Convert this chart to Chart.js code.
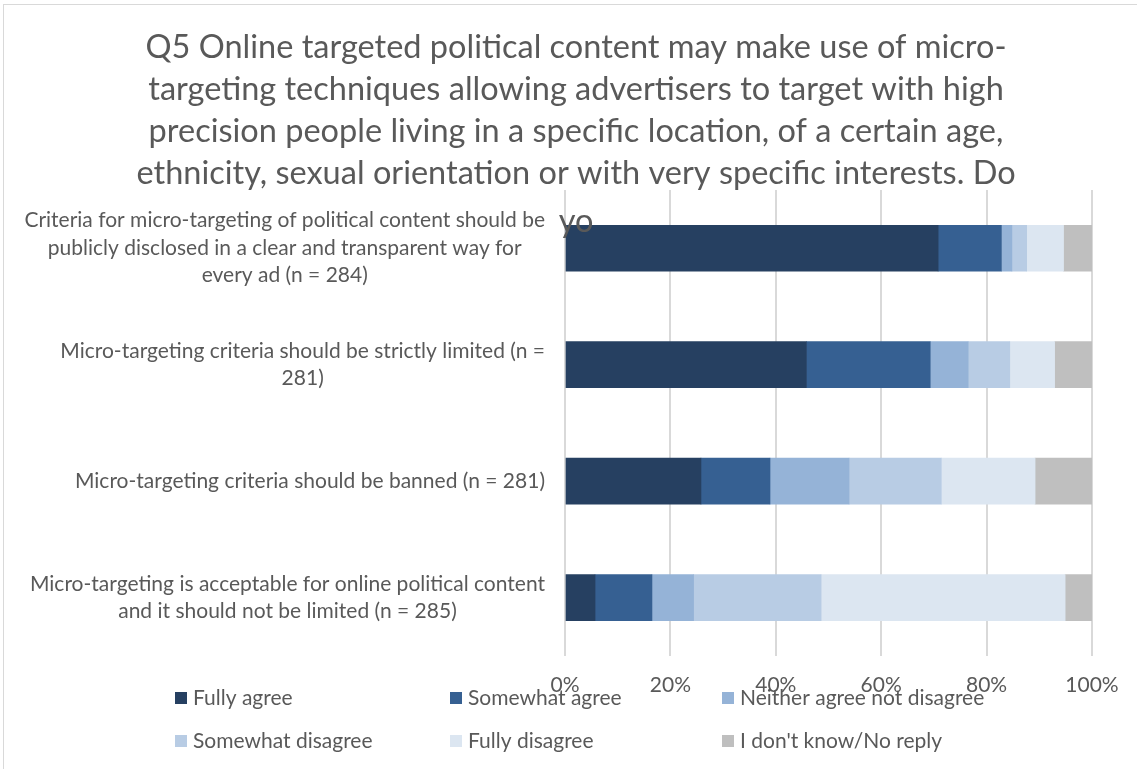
<!DOCTYPE html>
<html>
<head>
<meta charset="utf-8">
<script src="https://cdn.jsdelivr.net/npm/chart.js@4/dist/chart.umd.min.js"></script>
<style>
  html, body { margin: 0; padding: 0; background: #fff; }
  #wrap { position: relative; width: 1137px; height: 769px; }
</style>
</head>
<body>
<div id="wrap"><canvas id="q5"></canvas></div>
<script>
const categories = [
  ["Criteria for micro-targeting of political content should be", "publicly disclosed in a clear and transparent way for", "every ad (n = 284)"],
  ["Micro-targeting criteria should be strictly limited (n =", "281)"],
  ["Micro-targeting criteria should be banned (n = 281)"],
  ["Micro-targeting is acceptable for online political content", "and it should not be limited (n = 285)"],
];
const seriesNames = ["Fully agree", "Somewhat agree", "Neither agree not disagree", "Somewhat disagree", "Fully disagree", "I don't know/No reply"];
const fullyAgree = [70.8, 45.8, 25.8, 5.7];
const somewhatAgree = [12.0, 23.5, 13.1, 10.8];
const neitherAgree = [2.0, 7.2, 15.0, 7.9];
const somewhatDisagree = [2.8, 7.9, 17.5, 24.2];
const fullyDisagree = [7.0, 8.5, 17.8, 46.3];
const dontKnow = [5.4, 7.1, 10.8, 5.1];
const xTicks = [0, 20, 40, 60, 80, 100];

const colors = ["#264061", "#366092", "#95b3d7", "#b8cce4", "#dce6f1", "#bfbfbf"];
const titleLines = [
  "Q5 Online targeted political content may make use of micro-",
  "targeting techniques allowing advertisers to target with high",
  "precision people living in a specific location, of a certain age,",
  "ethnicity, sexual orientation or with very specific interests. Do",
  "yo",
];
const FONT = "Lato, 'Open Sans', sans-serif";
const GREY = "#595959";

// title + frame drawn by hand (the excel title overflows into the plot)
const titlePlugin = {
  id: "titleText",
  beforeDraw(chart) {
    const ctx = chart.ctx;
    ctx.save();
    ctx.strokeStyle = "#d9d9d9";
    ctx.lineWidth = 1;
    ctx.strokeRect(3.5, 4.5, chart.width + 10, chart.height + 10);
    ctx.restore();
  },
  afterDatasetsDraw(chart) {
    const ctx = chart.ctx;
    ctx.save();
    ctx.fillStyle = GREY;
    ctx.font = "32.5px " + FONT;
    ctx.textAlign = "center";
    ctx.textBaseline = "middle";
    titleLines.forEach((t, i) => ctx.fillText(t, 576, 48 + i * 42 + (i === 4 ? 6 : 0)));
    ctx.restore();
  },
};

// category labels: each block right aligned, its lines centred (excel style)
const catLabels = {
  id: "catLabels",
  afterDraw(chart) {
    const ctx = chart.ctx;
    const yScale = chart.scales.y;
    const right = chart.chartArea.left - 20;
    const lh = 27.5;
    ctx.save();
    ctx.font = "21px " + FONT;
    ctx.fillStyle = GREY;
    ctx.textAlign = "center";
    ctx.textBaseline = "middle";
    chart.data.labels.forEach((lines, i) => {
      const w = Math.max(...lines.map((l) => ctx.measureText(l).width));
      const cx = right - w / 2;
      const cy = yScale.getPixelForTick(i);
      lines.forEach((l, j) => ctx.fillText(l, cx, cy + (j - (lines.length - 1) / 2) * lh));
    });
    ctx.restore();
  },
};

// legend in a 3 x 2 grid like the excel one
const gridLegend = {
  id: "gridLegend",
  afterDraw(chart) {
    const ctx = chart.ctx;
    const colX = [175, 450, 722];
    const rowY = [698, 741];
    ctx.save();
    ctx.font = "21px " + FONT;
    ctx.textBaseline = "middle";
    ctx.textAlign = "left";
    chart.data.datasets.forEach((ds, i) => {
      const x = colX[i % 3];
      const y = rowY[Math.floor(i / 3)];
      ctx.fillStyle = ds.backgroundColor;
      ctx.fillRect(x, y - 6, 12, 12);
      ctx.fillStyle = GREY;
      ctx.fillText(ds.label, x + 18, y);
    });
    ctx.restore();
  },
};

const seriesData = [fullyAgree, somewhatAgree, neitherAgree, somewhatDisagree, fullyDisagree, dontKnow];

new Chart(document.getElementById("q5"), {
  type: "bar",
  data: {
    labels: categories,
    datasets: seriesNames.map((name, i) => ({
      label: name,
      data: seriesData[i],
      backgroundColor: colors[i],
      borderWidth: 0,
      barThickness: 46,
    })),
  },
  options: {
    indexAxis: "y",
    responsive: true,
    maintainAspectRatio: false,
    animation: false,
    layout: { padding: { top: 190, right: 45, bottom: 54, left: 10 } },
    scales: {
      x: {
        stacked: true,
        min: 0,
        max: 100,
        afterBuildTicks: (axis) => { axis.ticks = xTicks.map((v) => ({ value: v })); },
        ticks: {
          color: GREY,
          padding: 17,
          maxRotation: 0,
          font: { size: 21, family: FONT },
          callback: (v) => v + "%",
        },
        grid: { color: "#d9d9d9", lineWidth: 2, drawTicks: false },
        border: { display: false },
      },
      y: {
        stacked: true,
        afterFit: (axis) => { axis.width = 555; },
        ticks: { display: false },
        grid: { display: false },
        border: { display: false },
      },
    },
    plugins: {
      legend: { display: false },
      tooltip: { enabled: false },
    },
  },
  plugins: [titlePlugin, catLabels, gridLegend],
});
</script>
</body>
</html>
